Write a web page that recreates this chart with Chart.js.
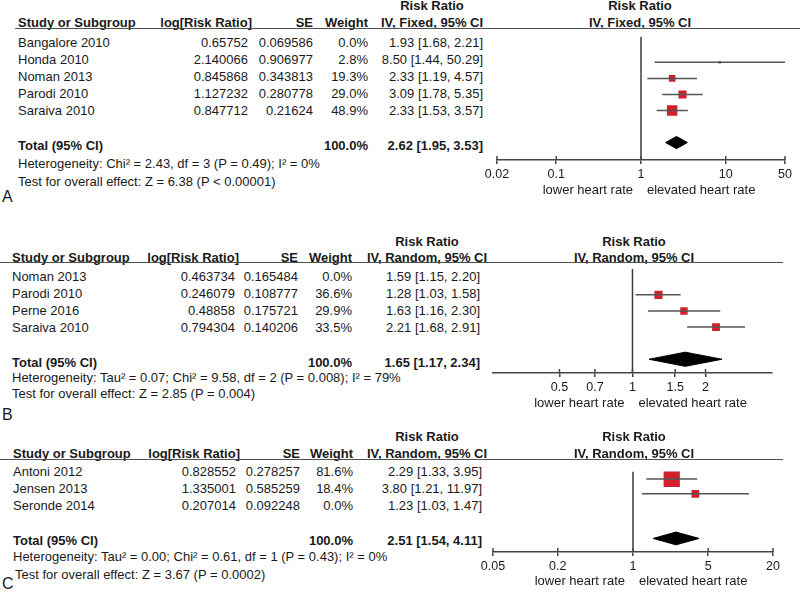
<!DOCTYPE html>
<html>
<head>
<meta charset="utf-8">
<script src="https://cdn.jsdelivr.net/npm/chart.js@4.4.1/dist/chart.umd.min.js"></script>
<style>
body { margin: 0; width: 800px; height: 592px; overflow: hidden; background: #fff; font-family: "Liberation Sans", Arial, sans-serif; color: #1a1a1a; }
#fig { position: relative; width: 800px; height: 592px; }
.t { position: absolute; white-space: nowrap; font-size: 13px; line-height: 16px; transform: translateY(-50%); }
.r { transform: translate(-100%, -50%); }
.c { transform: translate(-50%, -50%); }
.b { font-weight: bold; }
.hl { position: absolute; height: 0; border-top: 1.6px solid #505050; }
.letter { font-size: 16px; }
canvas { position: absolute; }
</style>
</head>
<body>
<div id="fig"></div>
<script>
// Panel A
const studiesA = ['Bangalore 2010', 'Honda 2010', 'Noman 2013', 'Parodi 2010', 'Saraiva 2010'];
const logRRA = ['0.65752', '2.140066', '0.845868', '1.127232', '0.847712'];
const seA = ['0.069586', '0.906977', '0.343813', '0.280778', '0.21624'];
const weightA = [0.0, 2.8, 19.3, 29.0, 48.9];
const rrA = [1.93, 8.50, 2.33, 3.09, 2.33];
const lowA = [1.68, 1.44, 1.19, 1.78, 1.53];
const highA = [2.21, 50.29, 4.57, 5.35, 3.57];
const totalA = [2.62, 1.95, 3.53];
const ticksA = [0.02, 0.1, 1, 10, 50];
const methodA = 'IV, Fixed, 95% CI';
const hetA = 'Heterogeneity: Chi² = 2.43, df = 3 (P = 0.49); I² = 0%';
const testA = 'Test for overall effect: Z = 6.38 (P < 0.00001)';

// Panel B
const studiesB = ['Noman 2013', 'Parodi 2010', 'Perne 2016', 'Saraiva 2010'];
const logRRB = ['0.463734', '0.246079', '0.48858', '0.794304'];
const seB = ['0.165484', '0.108777', '0.175721', '0.140206'];
const weightB = [0.0, 36.6, 29.9, 33.5];
const rrB = [1.59, 1.28, 1.63, 2.21];
const lowB = [1.15, 1.03, 1.16, 1.68];
const highB = [2.20, 1.58, 2.30, 2.91];
const totalB = [1.65, 1.17, 2.34];
const ticksB = [0.5, 0.7, 1, 1.5, 2];
const methodB = 'IV, Random, 95% CI';
const hetB = 'Heterogeneity: Tau² = 0.07; Chi² = 9.58, df = 2 (P = 0.008); I² = 79%';
const testB = 'Test for overall effect: Z = 2.85 (P = 0.004)';

// Panel C
const studiesC = ['Antoni 2012', 'Jensen 2013', 'Seronde 2014'];
const logRRC = ['0.828552', '1.335001', '0.207014'];
const seC = ['0.278257', '0.585259', '0.092248'];
const weightC = [81.6, 18.4, 0.0];
const rrC = [2.29, 3.80, 1.23];
const lowC = [1.33, 1.21, 1.03];
const highC = [3.95, 11.97, 1.47];
const totalC = [2.51, 1.54, 4.11];
const ticksC = [0.05, 0.2, 1, 5, 20];
const methodC = 'IV, Random, 95% CI';
const hetC = 'Heterogeneity: Tau² = 0.00; Chi² = 0.61, df = 1 (P = 0.43); I² = 0%';
const testC = 'Test for overall effect: Z = 3.67 (P = 0.0002)';

const ROW = 17;
const FONT = '"Liberation Sans", Arial, sans-serif';

const panels = [
  { letter: 'A', studies: studiesA, logRR: logRRA, se: seA, weight: weightA, rr: rrA, low: lowA, high: highA,
    total: totalA, ticks: ticksA, method: methodA, het: hetA, test: testA, xMin: 0.02, xMax: 50,
    pos: { nameX: 18, logX: 248, seX: 313, wX: 368, rrX: 483, rrHeadX: 432, plotHeadX: 640,
           head1Y: 6, head2Y: 23, lineY: 29, lineX0: 15, lineX1: 800, rowY0: 43, hetY: 164, testY: 182, testX: 18,
           axisLeft: 497, axisRight: 785, axisY: 160, labelY: 190, letterY: 197, box: 1.5, dia: 0.38 } },
  { letter: 'B', studies: studiesB, logRR: logRRB, se: seB, weight: weightB, rr: rrB, low: lowB, high: highB,
    total: totalB, ticks: ticksB, method: methodB, het: hetB, test: testB, xMin: 0.266, xMax: 3.76,
    pos: { nameX: 12, logX: 235, seX: 298, wX: 352, rrX: 480, rrHeadX: 427, plotHeadX: 634,
           head1Y: 242, head2Y: 258, lineY: 263, lineX0: 0, lineX1: 783, rowY0: 277, hetY: 378, testY: 394, testX: 12,
           axisLeft: 493, axisRight: 772, axisY: 373, labelY: 403, letterY: 415, box: 1.35, dia: 0.44 } },
  { letter: 'C', studies: studiesC, logRR: logRRC, se: seC, weight: weightC, rr: rrC, low: lowC, high: highC,
    total: totalC, ticks: ticksC, method: methodC, het: hetC, test: testC, xMin: 0.05, xMax: 20,
    pos: { nameX: 13, logX: 236, seX: 300, wX: 353, rrX: 482, rrHeadX: 427, plotHeadX: 634,
           head1Y: 437, head2Y: 454, lineY: 460, lineX0: 0, lineX1: 783, rowY0: 472, hetY: 557, testY: 575, testX: 15,
           axisLeft: 493, axisRight: 773, axisY: 552, labelY: 581, letterY: 584, box: 1.8, dia: 0.43 } }
];

const fig = document.getElementById('fig');

function addText(txt, x, y, cls) {
  const d = document.createElement('div');
  d.className = 't ' + (cls || '');
  d.textContent = txt;
  d.style.left = x + 'px';
  d.style.top = y + 'px';
  fig.appendChild(d);
  return d;
}

function ciText(est, lo, hi) {
  return est.toFixed(2) + ' [' + lo.toFixed(2) + ', ' + hi.toFixed(2) + ']';
}

// tick marks above the axis line too
const crossTicks = {
  id: 'crossTicks',
  afterDraw(chart) {
    const s = chart.scales.x, ctx = chart.ctx, y = chart.chartArea.bottom;
    ctx.save();
    ctx.strokeStyle = '#444';
    ctx.lineWidth = 1.5;
    s.ticks.forEach(t => {
      const x = s.getPixelForValue(t.value);
      ctx.beginPath();
      ctx.moveTo(x, y - 4);
      ctx.lineTo(x, y);
      ctx.stroke();
    });
    ctx.restore();
  }
};

panels.forEach(p => {
  const q = p.pos;
  const n = p.studies.length;

  // table headers
  addText('Risk Ratio', q.rrHeadX, q.head1Y, 'c b');
  addText('Risk Ratio', q.plotHeadX, q.head1Y, 'c b');
  addText('Study or Subgroup', q.nameX, q.head2Y, 'b');
  addText('log[Risk Ratio]', q.logX + 4, q.head2Y, 'r b');
  addText('SE', q.seX, q.head2Y, 'r b');
  addText('Weight', q.wX, q.head2Y, 'r b');
  addText(p.method, q.rrHeadX, q.head2Y, 'c b');
  addText(p.method, q.plotHeadX, q.head2Y, 'c b');
  const hl = document.createElement('div');
  hl.className = 'hl';
  hl.style.left = q.lineX0 + 'px';
  hl.style.width = (q.lineX1 - q.lineX0) + 'px';
  hl.style.top = (q.lineY - 1) + 'px';
  fig.appendChild(hl);

  // study rows
  p.studies.forEach((s, i) => {
    const y = q.rowY0 + ROW * i;
    addText(s, q.nameX, y);
    addText(p.logRR[i], q.logX, y, 'r');
    addText(p.se[i], q.seX, y, 'r');
    addText(p.weight[i].toFixed(1) + '%', q.wX, y, 'r');
    addText(ciText(p.rr[i], p.low[i], p.high[i]), q.rrX, y, 'r');
  });

  const totIdx = n + 1;
  const totY = q.rowY0 + ROW * totIdx + 1;
  addText('Total (95% CI)', q.nameX, totY, 'b');
  addText('100.0%', q.wX, totY, 'r b');
  addText(ciText(p.total[0], p.total[1], p.total[2]), q.rrX, totY, 'r b');
  addText(p.het, q.nameX, q.hetY);
  addText(p.test, q.testX, q.testY);
  addText(p.letter, 2, q.letterY, 'letter');

  // forest plot
  const padL = 20, padR = 12, axisH = 30;
  const cv = document.createElement('canvas');
  const w = (q.axisRight - q.axisLeft) + padL + padR;
  const h = (q.axisY - q.lineY) + axisH;
  cv.width = w; cv.height = h;
  cv.style.left = (q.axisLeft - padL) + 'px';
  cv.style.top = q.lineY + 'px';
  fig.appendChild(cv);

  const markY0 = q.rowY0 - 3.5;
  const yMin = (q.lineY - markY0) / ROW;
  const yMax = (q.axisY - markY0) / ROW;

  const datasets = [];
  datasets.push({ type: 'line', data: [{ x: 1, y: yMin }, { x: 1, y: yMax }],
    borderColor: '#3c3c3c', borderWidth: 1.5, pointRadius: 0 });
  const pts = [], sizes = [];
  p.studies.forEach((s, i) => {
    if (p.weight[i] <= 0) return;
    datasets.push({ type: 'line', data: [{ x: p.low[i], y: i }, { x: p.high[i], y: i }],
      borderColor: '#555', borderWidth: 1.5, pointRadius: 0 });
    pts.push({ x: p.rr[i], y: i });
    sizes.push(q.box * Math.sqrt(p.weight[i]));
  });
  // 'rect' point style: side = sqrt(2) * radius
  datasets.push({ type: 'scatter', data: pts, pointStyle: 'rect', backgroundColor: '#d1202b', borderWidth: 0,
    pointRadius: ctx => sizes[ctx.dataIndex] / Math.SQRT2 });
  const [te, tl, th] = p.total;
  datasets.push({ type: 'line', data: [{ x: tl, y: totIdx }, { x: te, y: totIdx - q.dia }, { x: th, y: totIdx }],
    borderColor: '#000', borderWidth: 1, pointRadius: 0, fill: false });
  datasets.push({ type: 'line', data: [{ x: tl, y: totIdx }, { x: te, y: totIdx + q.dia }, { x: th, y: totIdx }],
    borderColor: '#000', borderWidth: 1, pointRadius: 0, fill: '-1', backgroundColor: '#000' });

  const chart = new Chart(cv.getContext('2d'), {
    type: 'scatter',
    data: { datasets },
    options: {
      responsive: false,
      animation: false,
      devicePixelRatio: 1,
      events: [],
      layout: { padding: { left: padL, right: padR, top: 0, bottom: 0 } },
      plugins: { legend: { display: false }, tooltip: { enabled: false } },
      scales: {
        x: {
          type: 'logarithmic', min: p.xMin, max: p.xMax, bounds: 'data', position: 'bottom',
          afterBuildTicks: s => { s.ticks = p.ticks.map(v => ({ value: v })); },
          afterFit: s => { s.height = axisH; },
          grid: { display: true, drawOnChartArea: false, drawTicks: true, tickLength: 4, color: '#444', lineWidth: 1.5 },
          border: { display: true, color: '#444', width: 1.5 },
          ticks: { autoSkip: false, maxRotation: 0, padding: 3, color: '#1a1a1a',
                   font: { family: FONT, size: 12.5 }, callback: v => String(v) }
        },
        y: { type: 'linear', display: false, reverse: true, min: yMin, max: yMax, bounds: 'data' }
      }
    },
    plugins: [crossTicks]
  });

  const one = q.axisLeft - padL + chart.scales.x.getPixelForValue(1);
  addText('lower heart rate', one - 8, q.labelY, 'r');
  addText('elevated heart rate', one + 6, q.labelY);
});
</script>
</body>
</html>
